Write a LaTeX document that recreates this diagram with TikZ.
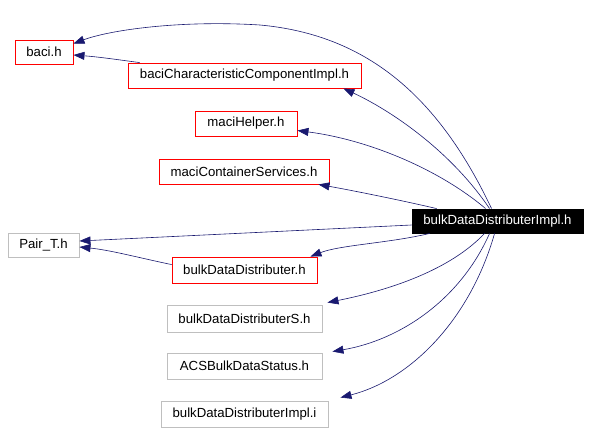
\documentclass[tikz,border=0pt]{standalone}
\usepackage{fontspec}
\setmainfont{Liberation Sans}
\usetikzlibrary{arrows.meta,calc}
\definecolor{edgeblue}{HTML}{191970}
\definecolor{boxgray}{HTML}{BFBFBF}
\tikzset{
  box/.style={draw, rectangle, inner sep=0pt, font=\fontsize{13.2}{15}\selectfont, line width=0.9pt},
  redbox/.style={box, draw=red},
  graybox/.style={box, draw=boxgray},
  rootbox/.style={box, draw=black, fill=black, text=white},
  edge/.style={draw=edgeblue, line width=0.6pt, {Triangle[length=11pt,width=8pt]}-},
}
\begin{document}
\begin{tikzpicture}[x=1pt,y=-1pt]
\useasboundingbox[fill=white] (0,0) rectangle (589,432);
\node[redbox, minimum width=58pt, minimum height=24pt] (baci) at (44,52) {baci.h};
\node[redbox, minimum width=233pt, minimum height=25pt] (bcc) at (244.5,75.5) {baciCharacteristicComponentImpl.h};
\node[redbox, minimum width=102pt, minimum height=25pt] (maciH) at (246,123.5) {maciHelper.h};
\node[redbox, minimum width=170pt, minimum height=25pt] (maciC) at (244,171.5) {maciContainerServices.h};
\node[rootbox, minimum width=171pt, minimum height=24pt] (impl) at (497.5,221) {bulkDataDistributerImpl.h};
\node[graybox, minimum width=71pt, minimum height=24pt] (pair) at (43.5,245) {Pair\_T.h};
\node[redbox, minimum width=145pt, minimum height=26pt] (bdd) at (244.5,270) {bulkDataDistributer.h};
\node[graybox, minimum width=155pt, minimum height=27pt] (bdds) at (244.5,318.5) {bulkDataDistributerS.h};
\node[graybox, minimum width=155pt, minimum height=26pt] (acs) at (244.5,366) {ACSBulkDataStatus.h};
\node[graybox, minimum width=167pt, minimum height=26pt] (impli) at (244.5,414) {bulkDataDistributerImpl.i};

% impl -> baci
\draw[edge] ($(baci.north east)+(0,4)$) .. controls (110,30) and (180,20) .. (260,25)
  .. controls (370,35) and (440,100) .. ($(impl.north west)+(80,0)$);
% impl -> bcc
\draw[edge] ($(bcc.south east)+(-18,0)$) .. controls (390,110) and (450,150) .. ($(impl.north west)+(78,0)$);
% impl -> maciH
\draw[edge] ($(maciH.east)+(0,7)$) .. controls (370,140) and (440,170) .. ($(impl.north west)+(74,0)$);
% impl -> maciC
\draw[edge] ($(maciC.south east)+(-11,0)$) .. controls (350,190) and (400,200) .. ($(impl.north west)+(25,0)$);
% impl -> pair
\draw[edge] ($(pair.east)+(0,-4)$) -- ($(impl.west)+(0,4)$);
% bdd -> pair
\draw[edge] ($(pair.east)+(0,2)$) .. controls (110,250) and (140,258) .. ($(bdd.north west)+(0,8)$);
% impl -> bdd
\draw[edge] ($(bdd.north east)+(-7,0)$) .. controls (340,245) and (390,243) .. ($(impl.south west)+(18,0)$);
% impl -> bdds
\draw[edge] ($(bdds.north east)+(5,-2)$) .. controls (390,290) and (450,270) .. ($(impl.south west)+(73,0)$);
% impl -> acs
\draw[edge] ($(acs.north east)+(10,-1)$) .. controls (400,340) and (460,300) .. ($(impl.south west)+(78,0)$);
% impl -> impli
\draw[edge] ($(impli.north east)+(12,-3)$) .. controls (410,380) and (470,320) .. ($(impl.south west)+(83,0)$);
% bcc -> baci
\draw[edge] ($(baci.east)+(0,3)$) .. controls (100,57) and (120,60) .. ($(bcc.north west)+(12,0)$);
\end{tikzpicture}
\end{document}
